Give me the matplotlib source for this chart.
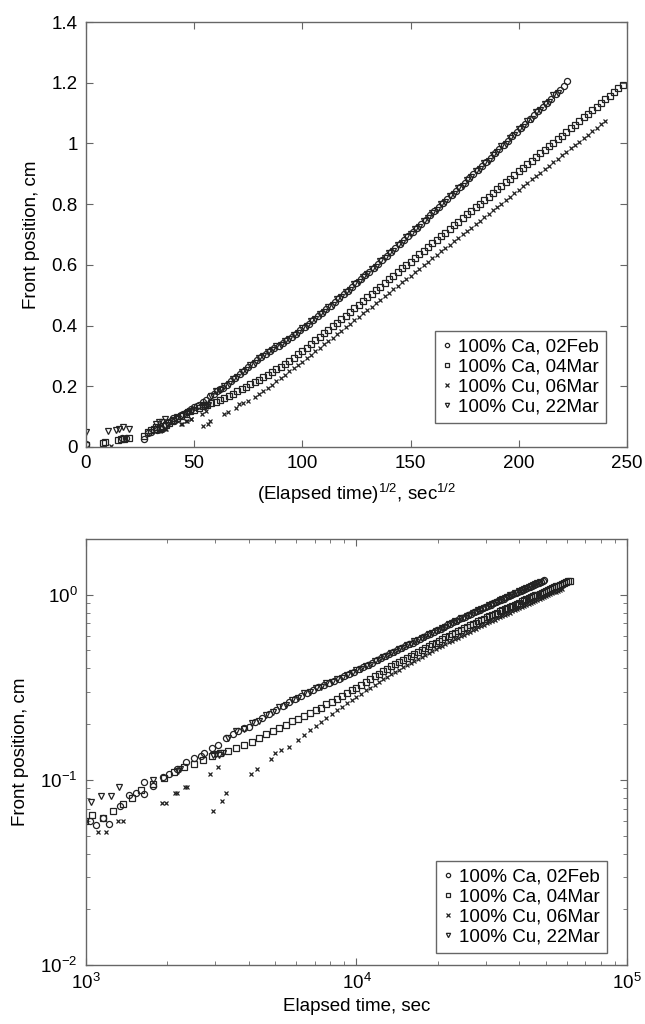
import numpy as np
import matplotlib
matplotlib.use('Agg')
import matplotlib.pyplot as plt
from matplotlib.ticker import FormatStrFormatter, LogLocator

plt.rcParams['font.family'] = ['Liberation Sans', 'DejaVu Sans']
plt.rcParams['mathtext.fontset'] = 'custom'
plt.rcParams['mathtext.rm'] = 'Liberation Sans'
plt.rcParams['mathtext.it'] = 'Liberation Sans:italic'
plt.rcParams['font.size'] = 13.5

# sqrt(elapsed time) [sec^1/2] and front position [cm]
ca_feb_s = [0, 16.5, 18.5, 27, 28.5, 30, 32.2, 33.0, 34.0, 34.9, 36.5, 38.0, 39.1, 40.5, 40.4, 42.1,
            43.9, 45.0, 46.5, 48.4, 50.0, 51.5, 52.2, 54.0, 55.5, 57.4, 59.0, 60.5, 62.0, 63.2, 65,
            67, 69, 71, 73, 75, 77, 79, 81, 83, 85, 87, 89, 91, 93, 95, 97, 99, 101, 103, 105, 107,
            109, 111, 113, 115, 117, 119, 121, 123, 125, 127, 129, 131, 133, 135, 137, 139, 141, 143,
            145, 147, 149, 151, 153, 155, 157, 159, 161, 163, 165, 167, 169, 171, 173, 175, 177, 179,
            181, 183, 185, 187, 189, 191, 193, 195, 197, 199, 201, 203, 205, 207, 209, 211, 213, 215,
            217, 219, 221, 222.5]
ca_feb_y = [0.01, 0.028, 0.03, 0.025, 0.045, 0.05, 0.06, 0.057, 0.062, 0.058, 0.072, 0.083, 0.085,
            0.084, 0.097, 0.093, 0.104, 0.108, 0.115, 0.125, 0.132, 0.135, 0.139, 0.148, 0.155, 0.168,
            0.176, 0.183, 0.19, 0.194, 0.205, 0.216, 0.228, 0.24, 0.25, 0.262, 0.275, 0.285, 0.296,
            0.305, 0.316, 0.325, 0.334, 0.342, 0.352, 0.362, 0.372, 0.384, 0.395, 0.406, 0.418, 0.43,
            0.442, 0.455, 0.466, 0.478, 0.49, 0.503, 0.515, 0.527, 0.54, 0.552, 0.566, 0.578, 0.59,
            0.604, 0.617, 0.63, 0.643, 0.656, 0.67, 0.683, 0.696, 0.709, 0.722, 0.736, 0.749, 0.763,
            0.776, 0.79, 0.803, 0.817, 0.83, 0.844, 0.858, 0.871, 0.885, 0.899, 0.912, 0.926, 0.94,
            0.953, 0.967, 0.981, 0.995, 1.009, 1.023, 1.037, 1.051, 1.065, 1.079, 1.093, 1.107, 1.12,
            1.134, 1.148, 1.162, 1.176, 1.19, 1.205]

ca_mar_s = [0, 8.0, 9.0, 14.6, 16.0, 17.5, 20.0, 27, 28.5, 30, 31.5, 32.5, 34.0, 35.5, 37, 38.5,
            40, 42, 44, 46, 48, 50, 52, 54, 56, 58, 60, 62, 64, 66, 68, 70, 72, 74, 76, 78, 80, 82,
            84, 86, 88, 90, 92, 94, 96, 98, 100, 102, 104, 106, 108, 110, 112, 114, 116, 118, 120,
            122, 124, 126, 128, 130, 132, 134, 136, 138, 140, 142, 144, 146, 148, 150, 152, 154, 156,
            158, 160, 162, 164, 166, 168, 170, 172, 174, 176, 178, 180, 182, 184, 186, 188, 190, 192,
            194, 196, 198, 200, 202, 204, 206, 208, 210, 212, 214, 216, 218, 220, 222, 224, 226, 228,
            230, 232, 234, 236, 238, 240, 242, 244, 246, 248]
ca_mar_y = [0.005, 0.012, 0.015, 0.022, 0.027, 0.025, 0.03, 0.035, 0.05, 0.055, 0.06, 0.065, 0.062,
            0.068, 0.074, 0.08, 0.088, 0.095, 0.102, 0.110, 0.117, 0.122, 0.128, 0.134, 0.139, 0.144,
            0.149, 0.155, 0.161, 0.168, 0.176, 0.184, 0.191, 0.198, 0.207, 0.214, 0.222, 0.230, 0.238,
            0.246, 0.256, 0.265, 0.274, 0.284, 0.294, 0.305, 0.315, 0.327, 0.339, 0.351, 0.362, 0.374,
            0.386, 0.398, 0.41, 0.421, 0.433, 0.445, 0.457, 0.469, 0.481, 0.493, 0.504, 0.516, 0.528,
            0.54, 0.552, 0.564, 0.576, 0.588, 0.6, 0.611, 0.623, 0.635, 0.647, 0.659, 0.671, 0.683,
            0.694, 0.706, 0.718, 0.73, 0.742, 0.754, 0.766, 0.777, 0.789, 0.801, 0.813, 0.825, 0.837,
            0.849, 0.86, 0.872, 0.884, 0.896, 0.908, 0.92, 0.932, 0.943, 0.955, 0.967, 0.979, 0.991,
            1.003, 1.015, 1.026, 1.038, 1.05, 1.062, 1.074, 1.086, 1.097, 1.109, 1.121, 1.133, 1.145,
            1.157, 1.169, 1.181, 1.193]

cu_mar06_s = [11.5, 33.3, 34.4, 36.3, 37.0, 43.7, 44.5, 46.1, 46.5, 48.3, 48.7, 53.5, 54.2, 55.5,
              56.4, 57.5, 63.7, 65.4, 69.5, 70.8, 72.6, 75, 78, 80, 82, 84, 86, 88, 90, 92, 94, 96,
              98, 100, 102, 104, 106, 108, 110, 112, 114, 116, 118, 120, 122, 124, 126, 128, 130,
              132, 134, 136, 138, 140, 142, 144, 146, 148, 150, 152, 154, 156, 158, 160, 162, 164,
              166, 168, 170, 172, 174, 176, 178, 180, 182, 184, 186, 188, 190, 192, 194, 196, 198,
              200, 202, 204, 206, 208, 210, 212, 214, 216, 218, 220, 222, 224, 226, 228, 230, 232,
              234, 236, 238, 240]
cu_mar06_y = [0.003, 0.052, 0.052, 0.06, 0.06, 0.075, 0.075, 0.085, 0.085, 0.092, 0.092, 0.108,
              0.068, 0.117, 0.077, 0.085, 0.108, 0.115, 0.13, 0.14, 0.145, 0.15, 0.165, 0.175, 0.185,
              0.195, 0.205, 0.217, 0.228, 0.238, 0.249, 0.26, 0.27, 0.281, 0.292, 0.304, 0.315,
              0.326, 0.338, 0.349, 0.36, 0.372, 0.383, 0.394, 0.406, 0.417, 0.428, 0.44, 0.451,
              0.462, 0.474, 0.485, 0.496, 0.508, 0.519, 0.53, 0.542, 0.553, 0.564, 0.576, 0.587,
              0.598, 0.61, 0.621, 0.632, 0.644, 0.655, 0.666, 0.678, 0.689, 0.70, 0.712, 0.723,
              0.734, 0.746, 0.757, 0.768, 0.78, 0.791, 0.802, 0.814, 0.825, 0.836, 0.848, 0.859,
              0.870, 0.882, 0.893, 0.904, 0.916, 0.927, 0.938, 0.95, 0.961, 0.972, 0.984, 0.995,
              1.006, 1.018, 1.029, 1.04, 1.052, 1.063, 1.074]

cu_mar22_s = [0, 10, 13.9, 15.4, 17.2, 20, 32.3, 33.7, 35.2, 36.4, 42, 46.8, 47.2, 54.3, 55.0, 55.8,
              56.6, 58, 60, 62, 64, 66, 68, 70, 72, 74, 76, 78, 80, 82, 84, 86, 88, 90, 92, 94, 96,
              98, 100, 102, 104, 106, 108, 110, 112, 114, 116, 118, 120, 122, 124, 126, 128, 130,
              132, 134, 136, 138, 140, 142, 144, 146, 148, 150, 152, 154, 156, 158, 160, 162, 164,
              166, 168, 170, 172, 174, 176, 178, 180, 182, 184, 186, 188, 190, 192, 194, 196, 198,
              200, 202, 204, 206, 208, 210, 212, 214, 216, 218]
cu_mar22_y = [0.05, 0.052, 0.055, 0.06, 0.065, 0.06, 0.0755, 0.082, 0.082, 0.091, 0.1, 0.112, 0.114,
              0.137, 0.138, 0.137, 0.139, 0.168, 0.183, 0.188, 0.202, 0.209, 0.224, 0.232, 0.247,
              0.254, 0.27, 0.278, 0.293, 0.299, 0.313, 0.319, 0.332, 0.336, 0.349, 0.355, 0.369,
              0.376, 0.392, 0.398, 0.414, 0.42, 0.438, 0.446, 0.462, 0.469, 0.486, 0.493, 0.511,
              0.518, 0.536, 0.543, 0.561, 0.569, 0.586, 0.594, 0.613, 0.621, 0.639, 0.646, 0.665,
              0.673, 0.692, 0.7, 0.718, 0.726, 0.745, 0.753, 0.772, 0.78, 0.799, 0.807, 0.826,
              0.834, 0.853, 0.861, 0.881, 0.889, 0.908, 0.916, 0.936, 0.943, 0.963, 0.971, 0.991,
              0.999, 1.019, 1.027, 1.047, 1.055, 1.075, 1.082, 1.103, 1.11, 1.13, 1.138, 1.158, 1.166]

labels = ['100% Ca, 02Feb', '100% Ca, 04Mar', '100% Cu, 06Mar', '100% Cu, 22Mar']
series = [(ca_feb_s, ca_feb_y, 'o', 4.4),
          (ca_mar_s, ca_mar_y, 's', 3.8),
          (cu_mar06_s, cu_mar06_y, 'x', 3.2),
          (cu_mar22_s, cu_mar22_y, 'v', 4.4)]

ink = '#222222'
frame = '#666666'

fig = plt.figure(figsize=(6.45, 10.24), dpi=100)
ax1 = fig.add_axes([0.1333, 0.5635, 0.8388, 0.415])
ax2 = fig.add_axes([0.1333, 0.0576, 0.8388, 0.416])

for (s, y, m, ms), lab in zip(series, labels):
    s = np.array(s)
    y = np.array(y)
    ax1.plot(s, y, ls='none', marker=m, ms=ms, mfc='none', mec=ink, mew=0.9, label=lab)
    ax2.plot(s ** 2, y, ls='none', marker=m, ms=ms, mfc='none', mec=ink, mew=0.9, label=lab)

ax1.set_xlim(0, 250)
ax1.set_ylim(0, 1.4)
ax1.set_xticks([0, 50, 100, 150, 200, 250])
ax1.set_yticks([0, 0.2, 0.4, 0.6, 0.8, 1.0, 1.2, 1.4])
ax1.yaxis.set_major_formatter(FormatStrFormatter('%g'))
ax1.set_xlabel('(Elapsed time)$^{1/2}$, sec$^{1/2}$', labelpad=7)
ax1.set_ylabel('Front position, cm', labelpad=8)

ax2.set_xscale('log')
ax2.set_yscale('log')
ax2.set_xlim(1e3, 1e5)
ax2.set_ylim(1e-2, 2)
ax2.xaxis.set_major_locator(LogLocator(base=10, numticks=10))
ax2.yaxis.set_major_locator(LogLocator(base=10, numticks=10))
ax2.set_xlabel('Elapsed time, sec', labelpad=3)
ax2.set_ylabel('Front position, cm', labelpad=8)

for ax in (ax1, ax2):
    for sp in ax.spines.values():
        sp.set_color(frame)
        sp.set_linewidth(1.0)
    ax.tick_params(which='both', direction='in', top=True, right=True, color=frame)
    ax.tick_params(which='major', length=5, width=0.8, pad=6)
    ax.tick_params(which='minor', length=3, width=0.6)

leg_kw = dict(loc='lower right', frameon=True, fancybox=False, edgecolor=frame,
              handlelength=0.5, handletextpad=0.3, labelspacing=0.15, borderpad=0.4,
              borderaxespad=0, markerscale=0.7, framealpha=1)
l1 = ax1.legend(bbox_to_anchor=(0.961, 0.056), **leg_kw)
l2 = ax2.legend(bbox_to_anchor=(0.963, 0.028), **leg_kw)
for lg in (l1, l2):
    lg.get_frame().set_linewidth(1.0)

fig.savefig('out.png', dpi=100)
